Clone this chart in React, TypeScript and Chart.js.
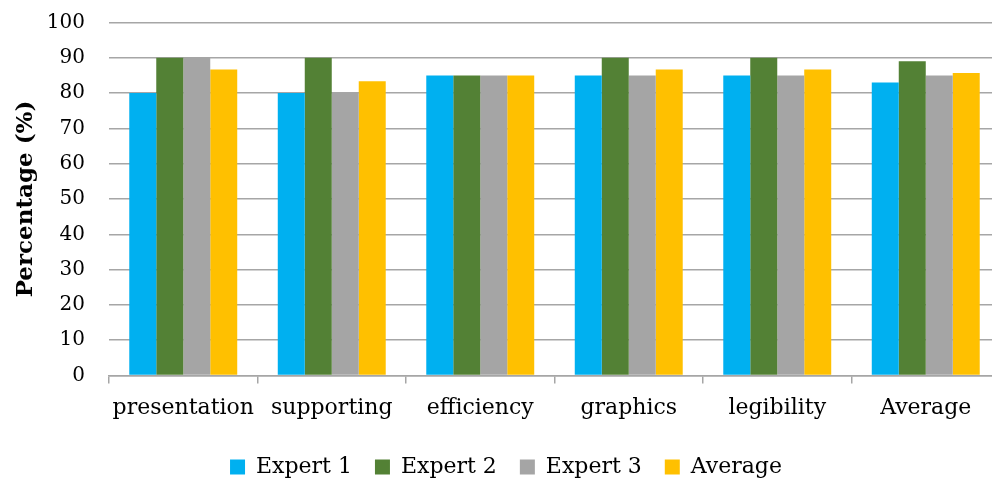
import React, { useEffect, useRef } from "react";
import { Chart, registerables } from "chart.js";

Chart.register(...registerables);

const categories = ["presentation", "supporting", "efficiency", "graphics", "legibility", "Average"];
const expert1 = [80, 80, 85, 85, 85, 83];
const expert2 = [90, 90, 85, 90, 90, 89];
const expert3 = [90, 80, 85, 85, 85, 85];
const average = [86.67, 83.33, 85, 86.67, 86.67, 85.67];
const yTicks = [0, 10, 20, 30, 40, 50, 60, 70, 80, 90, 100];

const FONT = "'DejaVu Serif', 'Liberation Serif', serif";

export default function App() {
  const canvasRef = useRef<HTMLCanvasElement | null>(null);

  useEffect(() => {
    if (!canvasRef.current) return;
    const chart = new Chart(canvasRef.current, {
      type: "bar",
      data: {
        labels: categories,
        datasets: [
          { label: "Expert 1", data: expert1, backgroundColor: "#00B0F0" },
          { label: "Expert 2", data: expert2, backgroundColor: "#538135" },
          { label: "Expert 3", data: expert3, backgroundColor: "#A5A5A5" },
          { label: "Average", data: average, backgroundColor: "#FFC000" },
        ],
      },
      options: {
        animation: false,
        responsive: false,
        devicePixelRatio: 1,
        datasets: { bar: { categoryPercentage: 0.727, barPercentage: 1.0 } },
        layout: { padding: { left: 12, right: 10, top: 22.5, bottom: 0 } },
        plugins: {
          tooltip: { enabled: false },
          legend: {
            position: "bottom",
            labels: {
              boxWidth: 15,
              boxHeight: 15,
              padding: 23,
              color: "#000",
              font: { family: FONT, size: 22 },
            },
          },
        },
        scales: {
          x: {
            afterFit: (axis: any) => {
              axis.height = 57.5;
            },
            grid: {
              offset: true,
              drawOnChartArea: false,
              drawTicks: true,
              tickLength: 8,
              color: "#A6A6A6",
              lineWidth: 1.5,
            },
            border: { display: true, color: "#A6A6A6", width: 1.5 },
            ticks: {
              color: "#000",
              font: { family: FONT, size: 22 },
              padding: 12,
              maxRotation: 0,
              autoSkip: false,
            },
          },
          y: {
            min: 0,
            max: 100,
            afterBuildTicks: (axis: any) => {
              axis.ticks = yTicks.map((v) => ({ value: v }));
            },
            afterFit: (axis: any) => {
              axis.width = 97;
              axis.paddingTop = 0;
              axis.paddingBottom = 0;
            },
            grid: { color: "#A6A6A6", lineWidth: 1.5, drawTicks: false },
            border: { display: false },
            ticks: {
              color: "#000",
              font: { family: FONT, size: 20 },
              padding: 24,
            },
            title: {
              display: true,
              text: "Percentage (%)",
              color: "#000",
              font: { family: FONT, size: 23, weight: "bold" },
              padding: { top: 0, bottom: 0 },
            },
          },
        },
      },
    });
    return () => chart.destroy();
  }, []);

  return (
    <div
      style={{
        position: "fixed",
        left: 0,
        top: 0,
        width: 992,
        height: 479,
        overflow: "hidden",
        background: "#fff",
      }}
    >
      <canvas ref={canvasRef} width={1010} height={488} style={{ display: "block" }} />
    </div>
  );
}
